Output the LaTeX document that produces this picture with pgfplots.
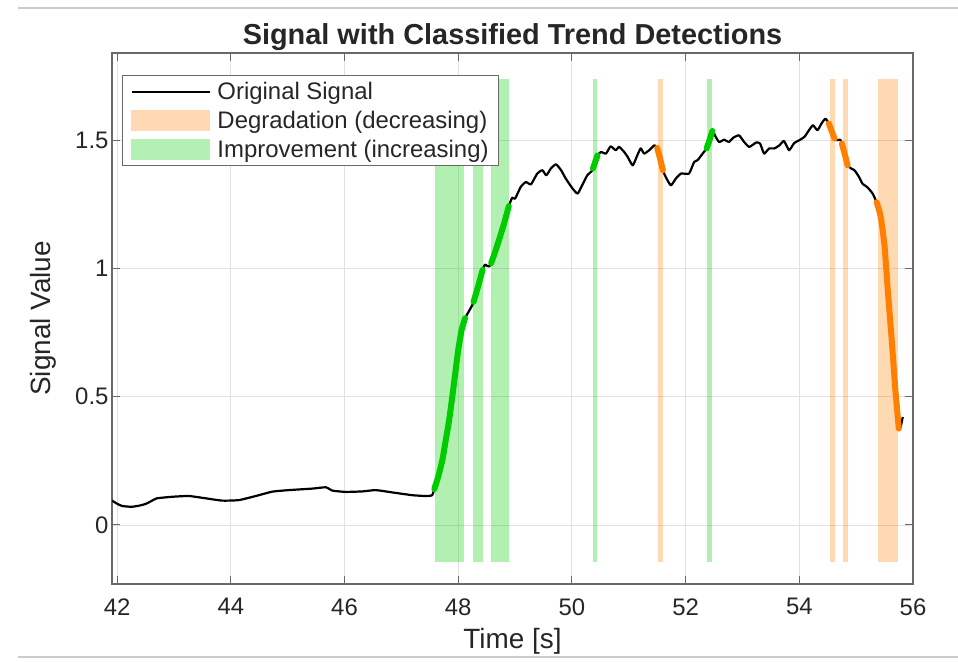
\documentclass[border=0pt]{standalone}
\usepackage{fontspec}
\setmainfont{Liberation Sans}
\usepackage{pgfplots}
\pgfplotsset{compat=1.18}
\definecolor{impline}{RGB}{0,204,0}
\definecolor{degline}{RGB}{255,128,0}
\definecolor{impfill}{RGB}{179,240,179}
\definecolor{degfill}{RGB}{255,217,179}
\definecolor{gridc}{RGB}{225,225,225}
\definecolor{axc}{RGB}{105,105,105}
\definecolor{txt}{RGB}{38,38,38}
\begin{document}
\begin{tikzpicture}
\useasboundingbox (0bp,0bp) rectangle (958bp,662bp);
\begin{axis}[
  at={(112bp,78bp)}, anchor=south west,
  scale only axis, width=801bp, height=531bp,
  xmin=41.91, xmax=56, ymin=-0.23, ymax=1.84,
  xtick={42,44,46,48,50,52,54,56}, ytick={0,0.5,1,1.5},
  grid=major, major grid style={gridc, line width=0.9bp},
  axis line style={axc, line width=1.3bp},
  tick style={axc, line width=1bp}, major tick length=8bp,
  tick align=inside,
  /pgf/number format/assume math mode=true,
  ticklabel style={font=\fontsize{24}{28}\selectfont, text=txt},
  xticklabel style={yshift=-11bp},
  title={Signal with Classified Trend Detections},
  title style={font=\bfseries\fontsize{29}{33}\selectfont, text=txt, yshift=-7bp},
  xlabel={Time [s]}, ylabel={Signal Value},
  label style={font=\fontsize{28}{32}\selectfont, text=txt},
  xlabel style={yshift=-6bp},
  ylabel style={yshift=12bp},
  legend cell align=left,
  legend style={at={(rel axis cs:0,1)}, anchor=north west, xshift=10bp, yshift=-22bp,
    draw=axc, line width=1bp, font=\fontsize{24}{27}\selectfont, text=txt,
    inner xsep=8bp, inner ysep=5bp, row sep=6bp,
    /tikz/every even column/.append style={column sep=3bp},
    /tikz/every odd column/.append style={column sep=5bp}},
]
\addlegendimage{legend image code/.code={\draw[black, line width=2bp] (0bp,0bp) -- (78bp,0bp);}}
\addlegendentry{Original Signal}
\addlegendimage{legend image code/.code={\fill[degfill] (0bp,-10bp) rectangle (78bp,10bp);}}
\addlegendentry{Degradation (decreasing)}
\addlegendimage{legend image code/.code={\fill[impfill] (0bp,-10bp) rectangle (78bp,10bp);}}
\addlegendentry{Improvement (increasing)}
% improvement regions
\addplot[fill=impline, fill opacity=0.3, draw=none, forget plot] coordinates {(47.59,-0.145) (48.11,-0.145) (48.11,1.74) (47.59,1.74)} --cycle;
\addplot[fill=impline, fill opacity=0.3, draw=none, forget plot] coordinates {(48.26,-0.145) (48.43,-0.145) (48.43,1.74) (48.26,1.74)} --cycle;
\addplot[fill=impline, fill opacity=0.3, draw=none, forget plot] coordinates {(48.58,-0.145) (48.90,-0.145) (48.90,1.74) (48.58,1.74)} --cycle;
\addplot[fill=impline, fill opacity=0.3, draw=none, forget plot] coordinates {(50.37,-0.145) (50.45,-0.145) (50.45,1.74) (50.37,1.74)} --cycle;
\addplot[fill=impline, fill opacity=0.3, draw=none, forget plot] coordinates {(52.38,-0.145) (52.46,-0.145) (52.46,1.74) (52.38,1.74)} --cycle;
% degradation regions
\addplot[fill=degline, fill opacity=0.3, draw=none, forget plot] coordinates {(51.51,-0.145) (51.61,-0.145) (51.61,1.74) (51.51,1.74)} --cycle;
\addplot[fill=degline, fill opacity=0.3, draw=none, forget plot] coordinates {(54.54,-0.145) (54.62,-0.145) (54.62,1.74) (54.54,1.74)} --cycle;
\addplot[fill=degline, fill opacity=0.3, draw=none, forget plot] coordinates {(54.76,-0.145) (54.85,-0.145) (54.85,1.74) (54.76,1.74)} --cycle;
\addplot[fill=degline, fill opacity=0.3, draw=none, forget plot] coordinates {(55.38,-0.145) (55.73,-0.145) (55.73,1.74) (55.38,1.74)} --cycle;
% signal
\addplot[black, line width=2.2bp, line join=round, smooth, tension=0.3, forget plot] coordinates {
(41.91,0.095) (42.00,0.083) (42.09,0.074) (42.26,0.071) (42.40,0.076) (42.50,0.082) (42.60,0.093) (42.70,0.104)
(42.97,0.110) (43.26,0.113) (43.56,0.104) (43.85,0.095) (44.14,0.097) (44.44,0.113) (44.73,0.130) (45.02,0.136)
(45.44,0.142) (45.67,0.147) (45.79,0.134) (46.02,0.129) (46.32,0.131) (46.55,0.136) (46.84,0.127) (47.20,0.116)
(47.43,0.113) (47.54,0.116) (47.58,0.140)
(47.65,0.190) (47.72,0.252) (47.78,0.330) (47.84,0.408) (47.89,0.490) (47.94,0.578) (48.00,0.682) (48.06,0.760) (48.12,0.806)
(48.18,0.830) (48.25,0.858) (48.27,0.870) (48.35,0.930) (48.43,0.995)
(48.47,1.015) (48.51,1.010) (48.55,1.008) (48.58,1.021) (48.65,1.065) (48.72,1.113) (48.80,1.170) (48.89,1.243)
(48.95,1.276) (49.00,1.272) (49.10,1.318) (49.19,1.337) (49.28,1.328) (49.39,1.370) (49.48,1.383) (49.55,1.363)
(49.63,1.390) (49.72,1.406) (49.81,1.383) (49.89,1.351) (50.01,1.312) (50.10,1.292) (50.18,1.324) (50.27,1.363) (50.35,1.380)
(50.37,1.390) (50.41,1.415) (50.45,1.441)
(50.51,1.454) (50.60,1.448) (50.68,1.476) (50.77,1.461) (50.83,1.474) (50.92,1.454) (50.98,1.435) (51.07,1.402)
(51.15,1.441) (51.21,1.468) (51.27,1.448) (51.36,1.461) (51.45,1.480) (51.50,1.470)
(51.55,1.430) (51.60,1.383)
(51.65,1.357) (51.74,1.324) (51.83,1.351) (51.92,1.370) (52.06,1.370) (52.15,1.415) (52.21,1.422) (52.30,1.448) (52.37,1.468)
(52.42,1.500) (52.47,1.536)
(52.53,1.513) (52.59,1.493) (52.68,1.502) (52.76,1.493) (52.84,1.510) (52.94,1.519) (53.03,1.493) (53.12,1.474)
(53.24,1.491) (53.31,1.487) (53.38,1.448) (53.47,1.468) (53.56,1.468) (53.65,1.480) (53.73,1.497) (53.82,1.461)
(53.91,1.489) (54.00,1.500) (54.09,1.513) (54.17,1.539) (54.24,1.558) (54.32,1.539) (54.39,1.565) (54.46,1.584) (54.52,1.565)
(54.57,1.535) (54.62,1.506)
(54.66,1.500) (54.72,1.502) (54.75,1.487)
(54.80,1.445) (54.85,1.402)
(54.91,1.390) (54.97,1.383) (55.05,1.357) (55.11,1.331) (55.20,1.316) (55.29,1.292) (55.36,1.258)
(55.40,1.230) (55.44,1.191) (55.50,1.086) (55.56,0.904) (55.63,0.708) (55.69,0.526) (55.75,0.376)
(55.78,0.380) (55.82,0.421)
};
% thick improvement segments
\addplot[impline, line width=6bp, line join=round, line cap=round, smooth, tension=0.3, forget plot] coordinates {
(47.58,0.140) (47.65,0.190) (47.72,0.252) (47.78,0.330) (47.84,0.408) (47.89,0.490) (47.94,0.578) (48.00,0.682) (48.06,0.760) (48.12,0.806)};
\addplot[impline, line width=6bp, line join=round, line cap=round, forget plot] coordinates {
(48.27,0.870) (48.35,0.930) (48.43,0.995)};
\addplot[impline, line width=6bp, line join=round, line cap=round, forget plot] coordinates {
(48.58,1.021) (48.65,1.065) (48.72,1.113) (48.80,1.170) (48.89,1.243)};
\addplot[impline, line width=6bp, line join=round, line cap=round, forget plot] coordinates {
(50.37,1.390) (50.41,1.415) (50.45,1.441)};
\addplot[impline, line width=6bp, line join=round, line cap=round, forget plot] coordinates {
(52.37,1.468) (52.42,1.500) (52.47,1.536)};
% thick degradation segments
\addplot[degline, line width=6bp, line join=round, line cap=round, forget plot] coordinates {
(51.50,1.470) (51.55,1.430) (51.60,1.383)};
\addplot[degline, line width=6bp, line join=round, line cap=round, forget plot] coordinates {
(54.52,1.565) (54.57,1.535) (54.62,1.506)};
\addplot[degline, line width=6bp, line join=round, line cap=round, forget plot] coordinates {
(54.75,1.487) (54.80,1.445) (54.85,1.402)};
\addplot[degline, line width=6bp, line join=round, line cap=round, smooth, tension=0.3, forget plot] coordinates {
(55.36,1.258) (55.40,1.230) (55.44,1.191) (55.50,1.086) (55.56,0.904) (55.63,0.708) (55.69,0.526) (55.75,0.376)};
\end{axis}
\draw[gray!40, line width=1.5bp] (18bp,654bp) -- (958bp,654bp);
\draw[gray!40, line width=1.5bp] (18bp,5bp) -- (958bp,5bp);
\end{tikzpicture}
\end{document}
